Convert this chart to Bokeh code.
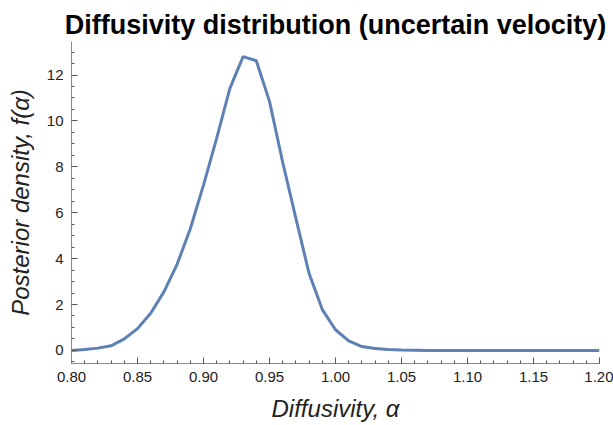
from bokeh.plotting import figure
from bokeh.models import FixedTicker, Range1d, CustomJSTickFormatter
from bokeh.embed import file_html
from bokeh.resources import INLINE

alpha = [0.80, 0.81, 0.82, 0.83, 0.84, 0.85, 0.86, 0.87, 0.88, 0.89,
         0.90, 0.91, 0.92, 0.93, 0.94, 0.95, 0.96, 0.97, 0.98, 0.99,
         1.00, 1.01, 1.02, 1.03, 1.04, 1.05, 1.06, 1.07, 1.08, 1.09,
         1.10, 1.11, 1.12, 1.13, 1.14, 1.15, 1.16, 1.17, 1.18, 1.19, 1.20]
density = [0.0, 0.04, 0.1, 0.2, 0.5, 0.95, 1.62, 2.55, 3.75, 5.3,
           7.2, 9.25, 11.42, 12.8, 12.62, 10.85, 8.2, 5.75, 3.35, 1.78,
           0.9, 0.42, 0.17, 0.08, 0.04, 0.02, 0.01, 0.0, 0.0, 0.0,
           0.0, 0.0, 0.0, 0.0, 0.0, 0.0, 0.0, 0.0, 0.0, 0.0, 0.0]

x_ticks = [0.80, 0.85, 0.90, 0.95, 1.00, 1.05, 1.10, 1.15, 1.20]
y_ticks = [0, 2, 4, 6, 8, 10, 12]

p = figure(width=613, height=425, output_backend="svg", toolbar_location=None,
           x_range=Range1d(0.80, 1.20), y_range=Range1d(-0.57, 13.46),
           title="Diffusivity distribution (uncertain velocity)",
           min_border_left=71, min_border_right=14, min_border_top=41, min_border_bottom=62)

p.line(alpha, density, line_color="#5E81B5", line_width=3)

p.title.text_font = "Liberation Sans"
p.title.text_font_style = "bold"
p.title.text_font_size = "27px"
p.title.align = "center"
p.title.text_color = "black"
p.title.standoff = 4

p.grid.visible = False
p.outline_line_color = None

for ax in (p.xaxis[0], p.yaxis[0]):
    ax.axis_line_color = "#8a8a8a"
    ax.major_tick_line_color = "#555555"
    ax.minor_tick_line_color = "#555555"
    ax.major_tick_in = 6
    ax.major_tick_out = 0
    ax.minor_tick_in = 3
    ax.minor_tick_out = 0
    ax.major_label_text_font = "Liberation Sans"
    ax.major_label_text_font_size = "15px"
    ax.major_label_text_color = "#222222"
    ax.axis_label_text_font = "Liberation Sans"
    ax.axis_label_text_font_style = "italic"
    ax.axis_label_text_font_size = "24px"
    ax.axis_label_text_color = "#222222"

p.xaxis.ticker = FixedTicker(ticks=x_ticks,
                             minor_ticks=[round(0.80 + 0.01 * i, 2) for i in range(41)])
p.yaxis.ticker = FixedTicker(ticks=y_ticks,
                             minor_ticks=[-0.5 + 0.5 * i for i in range(28)])
p.xaxis.formatter = CustomJSTickFormatter(code="return tick.toFixed(2);")
p.xaxis.axis_label = "Diffusivity, α"
p.yaxis.axis_label = "Posterior density, f(α)"
p.xaxis.major_label_standoff = 8
p.yaxis.major_label_standoff = 8
p.xaxis.axis_label_standoff = 10
p.yaxis.axis_label_standoff = 10

open("out.html", "w").write(file_html(p, INLINE))
